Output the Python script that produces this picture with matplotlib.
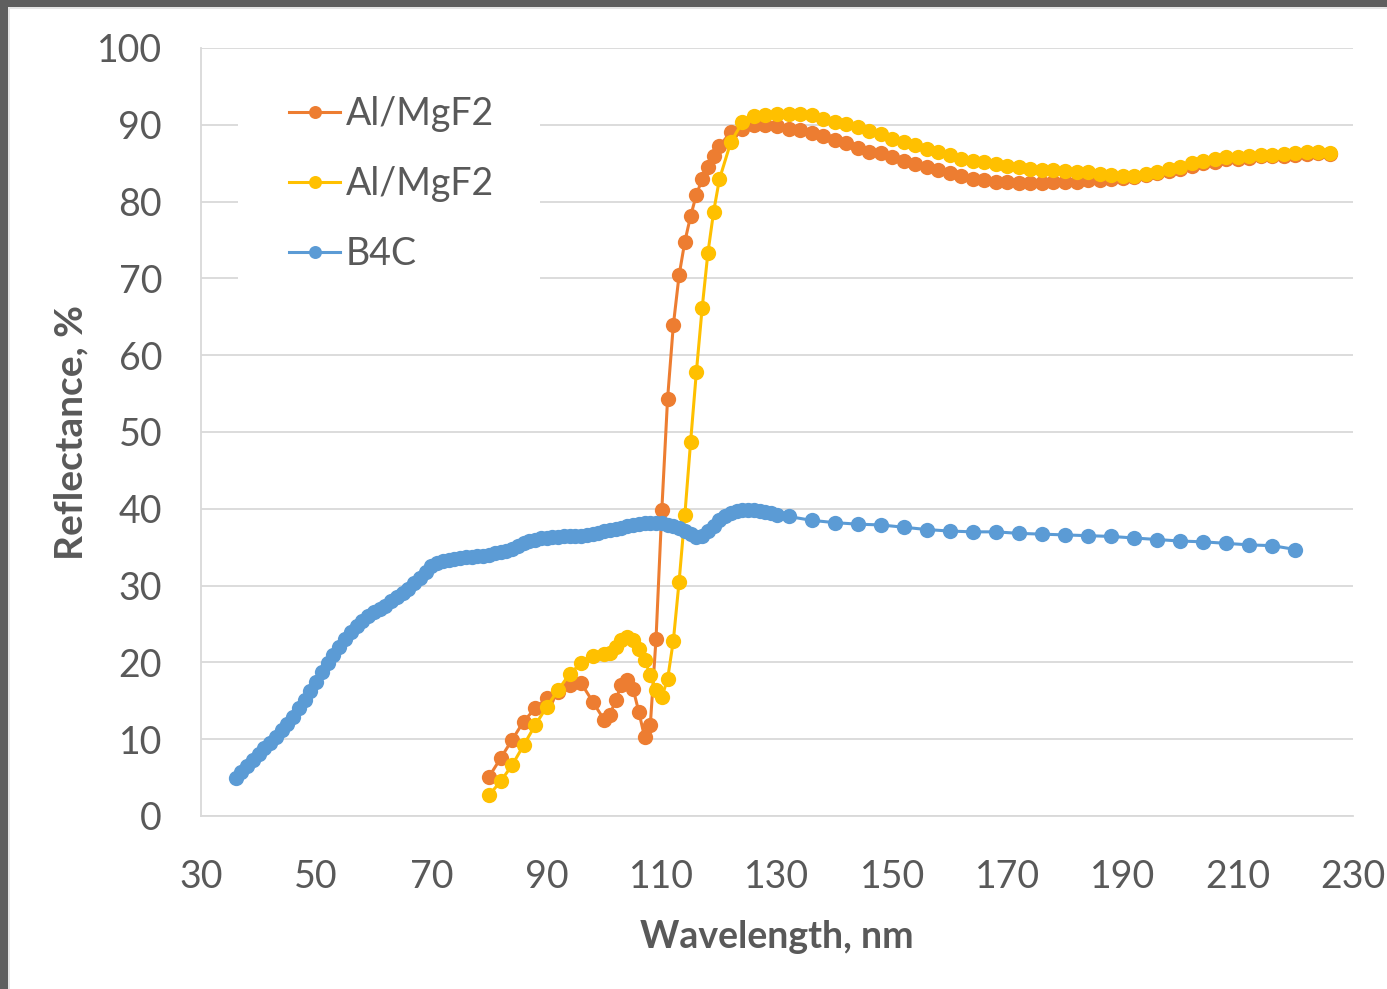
import matplotlib
matplotlib.use("Agg")
import matplotlib.pyplot as plt
from matplotlib.patches import Rectangle

# B4C reflectance (dense scan, then 4 nm steps)
b4c_wl = list(range(36, 131)) + list(range(132, 221, 4))
b4c_r = [
    4.9, 5.7, 6.5, 7.3, 8.1, 8.8, 9.5, 10.3, 11.2, 12.0,
    12.9, 14.0, 15.1, 16.3, 17.5, 18.7, 19.9, 21.0, 22.0, 23.0,
    23.9, 24.7, 25.4, 26.0, 26.5, 27.0, 27.4, 28.0, 28.5, 29.0,
    29.6, 30.3, 31.0, 31.8, 32.5, 33.0, 33.2, 33.35, 33.5, 33.6,
    33.7, 33.75, 33.85, 33.9, 34.0, 34.2, 34.35, 34.5, 34.8, 35.2,
    35.5, 35.8, 36.0, 36.2, 36.25, 36.3, 36.35, 36.4, 36.45, 36.5,
    36.5, 36.6, 36.7, 36.9, 37.05, 37.2, 37.35, 37.5, 37.7, 37.9,
    38.0, 38.1, 38.1, 38.15, 38.1, 37.95, 37.75, 37.5, 37.1, 36.7,
    36.3, 36.4, 37.1, 37.8, 38.5, 39.1, 39.5, 39.7, 39.8, 39.8,
    39.8, 39.75, 39.6, 39.4, 39.2,
    39.0, 38.5, 38.2, 38.0, 37.9, 37.6, 37.3, 37.1, 37.0, 37.0,
    36.8, 36.7, 36.6, 36.5, 36.4, 36.2, 36.0, 35.8, 35.7, 35.5,
    35.3, 35.2, 34.7,
]

# Al/MgF2 sample 1 (orange)
al1_wl = [80, 82, 84, 86, 88, 90, 92, 94, 96, 98, 100, 101, 102, 103, 104,
          105, 106, 107, 108, 109, 110, 111, 112, 113, 114, 115, 116, 117,
          118, 119, 120] + list(range(122, 227, 2))
al1_r = [
    5.1, 7.5, 9.9, 12.3, 14.0, 15.3, 16.2, 17.1, 17.3, 14.9, 12.5, 13.2,
    15.1, 17.1, 17.7, 16.6, 13.6, 10.3, 11.8, 23.1, 39.8, 54.3, 63.9, 70.4,
    74.8, 78.1, 80.9, 82.9, 84.5, 85.9, 87.2,
    89.1, 89.5, 90.0, 90.0, 89.8, 89.5, 89.3, 88.9, 88.5, 88.0, 87.6, 87.0,
    86.5, 86.3, 85.8, 85.3, 84.9, 84.5, 84.1, 83.7, 83.3, 83.0, 82.8, 82.6,
    82.5, 82.4, 82.4, 82.4, 82.5, 82.6, 82.6, 82.8, 82.8, 83.0, 83.1, 83.2,
    83.4, 83.7, 84.0, 84.3, 84.7, 85.0, 85.2, 85.5, 85.6, 85.7, 85.9, 85.9,
    86.0, 86.1, 86.2, 86.3, 86.2,
]

# Al/MgF2 sample 2 (yellow)
al2_wl = [80, 82, 84, 86, 88, 90, 92, 94, 96, 98, 100, 101, 102, 103, 104,
          105, 106, 107, 108, 109, 110, 111, 112, 113, 114, 115, 116, 117,
          118, 119, 120] + list(range(122, 227, 2))
al2_r = [
    2.7, 4.5, 6.6, 9.2, 11.8, 14.2, 16.4, 18.5, 19.9, 20.8, 21.1, 21.2,
    22.0, 22.9, 23.3, 22.9, 21.8, 20.3, 18.4, 16.4, 15.5, 17.8, 22.8, 30.5,
    39.2, 48.7, 57.8, 66.1, 73.3, 78.7, 82.9,
    87.8, 90.3, 91.1, 91.3, 91.4, 91.4, 91.4, 91.3, 90.8, 90.4, 90.1, 89.75,
    89.2, 88.8, 88.2, 87.8, 87.4, 86.9, 86.5, 86.1, 85.6, 85.3, 85.1, 84.9,
    84.6, 84.5, 84.3, 84.1, 84.1, 84.0, 83.9, 83.8, 83.6, 83.5, 83.3, 83.3,
    83.6, 83.9, 84.2, 84.5, 85.0, 85.3, 85.5, 85.8, 85.8, 85.9, 86.1, 86.1,
    86.2, 86.3, 86.4, 86.5, 86.3,
]

x_ticks = list(range(30, 231, 20))
y_ticks = list(range(0, 101, 10))

plt.rcParams['font.family'] = ['Lato', 'DejaVu Sans']
text_col = '#595959'
grid_col = '#d9d9d9'

fig = plt.figure(figsize=(13.87, 9.89), dpi=100)
fig.patch.set_facecolor('#5f5f5f')
# white page inside the dark frame
fig.patches.append(Rectangle((8 / 1387, 0), 1, 1 - 7 / 989, transform=fig.transFigure,
                             facecolor='#e6e6e6', edgecolor='none', zorder=-10))
fig.patches.append(Rectangle((10 / 1387, 0), 1, 1 - 9 / 989, transform=fig.transFigure,
                             facecolor='white', edgecolor='none', zorder=-9))

ax = fig.add_axes([201 / 1387, 1 - 816 / 989, 1152 / 1387, 768 / 989])
ax.set_zorder(1)
ax.set_facecolor('none')

style = dict(marker='o', markersize=11, linewidth=2.2, markeredgewidth=0)
ax.plot(al1_wl, al1_r, color='#ED7D31', label='Al/MgF2', zorder=3, **style)
ax.plot(al2_wl, al2_r, color='#FFC000', label='Al/MgF2', zorder=4, **style)
ax.plot(b4c_wl, b4c_r, color='#5B9BD5', label='B4C', zorder=5, **style)

ax.set_xlim(30, 230)
ax.set_ylim(0, 100)
ax.set_xticks(x_ticks)
ax.set_yticks(y_ticks)
ax.grid(axis='y', color=grid_col, linewidth=1.3)
ax.set_axisbelow(True)
for side in ['top', 'right']:
    ax.spines[side].set_visible(False)
for side in ['left', 'bottom']:
    ax.spines[side].set_color(grid_col)
    ax.spines[side].set_linewidth(1.3)
ax.tick_params(length=0, labelsize=27, colors=text_col)
ax.tick_params(axis='x', pad=31)
ax.tick_params(axis='y', pad=28)

ax.set_xlabel('Wavelength, nm', fontsize=27, fontweight='bold', color=text_col, labelpad=18)
ax.set_ylabel('Reflectance, %', fontsize=28, fontweight='bold', color=text_col, labelpad=6)

# white legend area hiding the gridlines
ax.add_patch(Rectangle((0.032, 0.691), 0.262, 0.261, transform=ax.transAxes,
                       facecolor='white', edgecolor='none', zorder=1.5))

leg = ax.legend(loc='upper left', bbox_to_anchor=(0.0764, 0.937), fontsize=27,
                frameon=False, handlelength=1.36, handletextpad=0.16,
                labelspacing=0.9, borderpad=0, borderaxespad=0, markerscale=0.85)
for t in leg.get_texts():
    t.set_color(text_col)
leg.set_zorder(2)

fig.savefig('out.png', dpi=100, facecolor=fig.get_facecolor())
